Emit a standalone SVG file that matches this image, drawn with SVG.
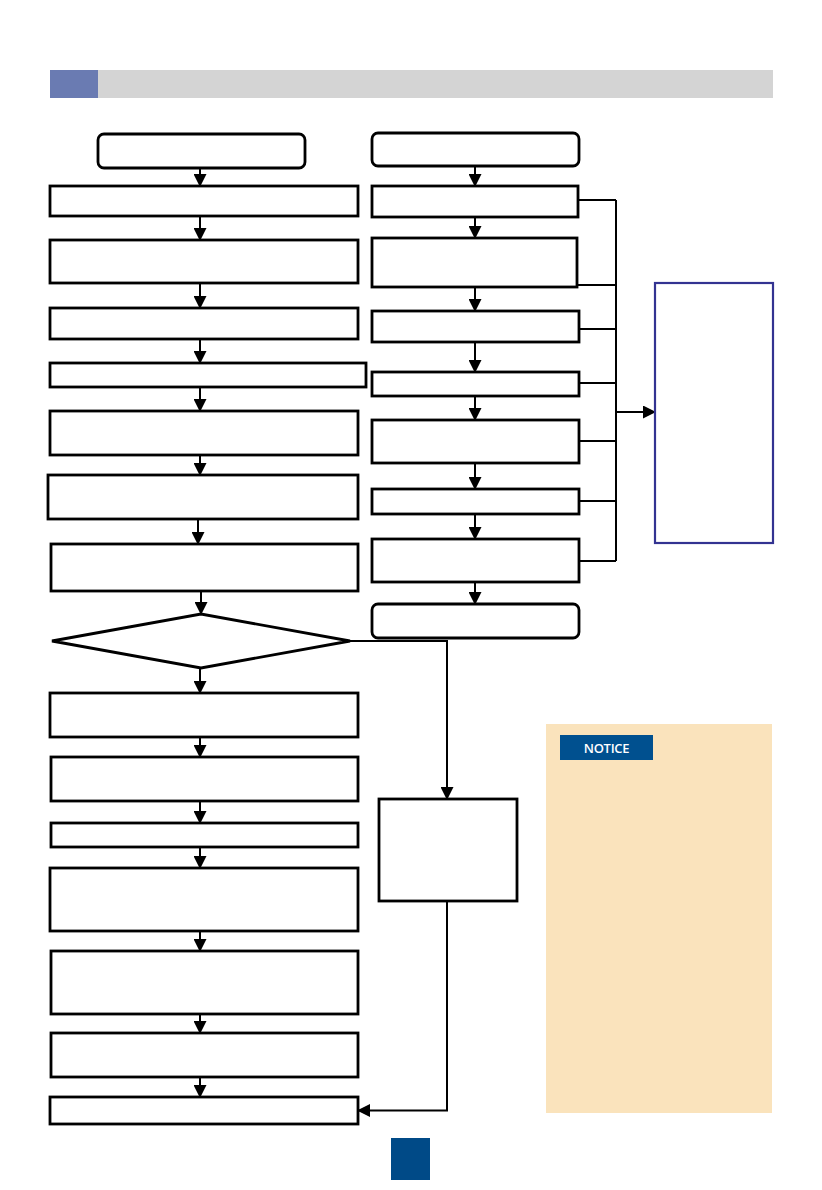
<svg xmlns="http://www.w3.org/2000/svg" width="822" height="1190" viewBox="0 0 822 1190">
<style>
.box{fill:#fff;stroke:#000;stroke-width:2.8}
.con{fill:none;stroke:#000;stroke-width:2}
.dn{fill:none;stroke:#000;stroke-width:2;marker-end:url(#ah)}
</style>
<defs>
<marker id="ah" markerUnits="userSpaceOnUse" markerWidth="13" markerHeight="13" viewBox="0 0 13 13" refX="12" refY="6.5" orient="auto">
<path d="M0,0 L13,6.5 L0,13 z" fill="#000"/>
</marker>
</defs>
<rect width="822" height="1190" fill="#fff"/>
<g id="header">
<rect x="50" y="70" width="723" height="28" fill="#d4d4d4"/>
<rect x="50" y="70" width="48" height="28" fill="#6a7bb2"/>
</g>
<g id="connectors">
<line class="dn" x1="200" y1="168" x2="200" y2="186"/>
<line class="dn" x1="200" y1="216" x2="200" y2="240"/>
<line class="dn" x1="200" y1="283" x2="200" y2="308"/>
<line class="dn" x1="200" y1="339" x2="200" y2="363"/>
<line class="dn" x1="200" y1="387" x2="200" y2="411"/>
<line class="dn" x1="200" y1="455" x2="200" y2="475"/>
<line class="dn" x1="198" y1="519" x2="198" y2="544"/>
<line class="dn" x1="201" y1="591" x2="201" y2="614"/>
<line class="dn" x1="200" y1="668" x2="200" y2="693"/>
<line class="dn" x1="200" y1="737" x2="200" y2="757"/>
<line class="dn" x1="200" y1="801" x2="200" y2="823"/>
<line class="dn" x1="200" y1="847" x2="200" y2="868"/>
<line class="dn" x1="200" y1="931" x2="200" y2="951"/>
<line class="dn" x1="200" y1="1014" x2="200" y2="1033"/>
<line class="dn" x1="200" y1="1077" x2="200" y2="1097"/>
<line class="dn" x1="475" y1="166" x2="475" y2="186"/>
<line class="dn" x1="475" y1="217" x2="475" y2="238"/>
<line class="dn" x1="475" y1="287" x2="475" y2="311"/>
<line class="dn" x1="475" y1="342" x2="475" y2="372"/>
<line class="dn" x1="475" y1="396" x2="475" y2="420"/>
<line class="dn" x1="475" y1="463" x2="475" y2="489"/>
<line class="dn" x1="475" y1="514" x2="475" y2="539"/>
<line class="dn" x1="475" y1="582" x2="475" y2="604"/>
<path class="con" d="M578,200 H616 M577,285 H616 M579,329 H616 M579,383 H616 M579,441 H616 M579,501 H616 M579,561 H616 M616,200 V561"/>
<line class="dn" x1="616" y1="412" x2="655" y2="412"/>
<path class="dn" d="M350,641 H447 V799"/>
<path class="dn" d="M447,901 V1110.5 H358"/>
</g>
<g id="l-start"><rect class="box" x="98" y="134" width="207" height="34" rx="6"/></g>
<g id="l1"><rect class="box" x="50" y="186" width="308" height="30"/></g>
<g id="l2"><rect class="box" x="50" y="240" width="308" height="43"/></g>
<g id="l3"><rect class="box" x="50" y="308" width="308" height="31"/></g>
<g id="l4"><rect class="box" x="50" y="363" width="316" height="24"/></g>
<g id="l5"><rect class="box" x="50" y="411" width="308" height="44"/></g>
<g id="l6"><rect class="box" x="48" y="475" width="310" height="44"/></g>
<g id="l7"><rect class="box" x="51" y="544" width="307" height="47"/></g>
<g id="decision"><polygon class="box" points="52,641 201,614 350,641 201,668"/></g>
<g id="l8"><rect class="box" x="50" y="693" width="308" height="44"/></g>
<g id="l9"><rect class="box" x="51" y="757" width="307" height="44"/></g>
<g id="l10"><rect class="box" x="51" y="823" width="307" height="24"/></g>
<g id="l11"><rect class="box" x="50" y="868" width="308" height="63"/></g>
<g id="l12"><rect class="box" x="51" y="951" width="307" height="63"/></g>
<g id="l13"><rect class="box" x="51" y="1033" width="307" height="44"/></g>
<g id="l14"><rect class="box" x="50" y="1097" width="308" height="27"/></g>
<g id="r-start"><rect class="box" x="372" y="133" width="207" height="33" rx="6"/></g>
<g id="r1"><rect class="box" x="372" y="186" width="206" height="31"/></g>
<g id="r2"><rect class="box" x="372" y="238" width="205" height="49"/></g>
<g id="r3"><rect class="box" x="372" y="311" width="207" height="31"/></g>
<g id="r4"><rect class="box" x="372" y="372" width="207" height="24"/></g>
<g id="r5"><rect class="box" x="372" y="420" width="207" height="43"/></g>
<g id="r6"><rect class="box" x="372" y="489" width="207" height="25"/></g>
<g id="r7"><rect class="box" x="372" y="539" width="207" height="43"/></g>
<g id="r-end"><rect class="box" x="372" y="604" width="207" height="34" rx="6"/></g>
<g id="side"><rect x="655" y="283" width="118" height="260" fill="#fff" stroke="#333391" stroke-width="2.2"/></g>
<g id="mid"><rect class="box" x="379" y="799" width="138" height="102"/></g>
<g id="notice">
<rect x="546" y="724" width="226" height="389" fill="#fae3bc"/>
<rect x="560" y="735" width="93" height="25" fill="#00508f"/>
<text x="606.5" y="752.5" font-family="'Open Sans', 'Liberation Sans', sans-serif" font-size="13" font-weight="600" letter-spacing="-0.3" fill="#fff" text-anchor="middle">NOTICE</text>
</g>
<g id="page"><rect x="391" y="1138" width="39" height="42" fill="#004a87"/></g>
</svg>
